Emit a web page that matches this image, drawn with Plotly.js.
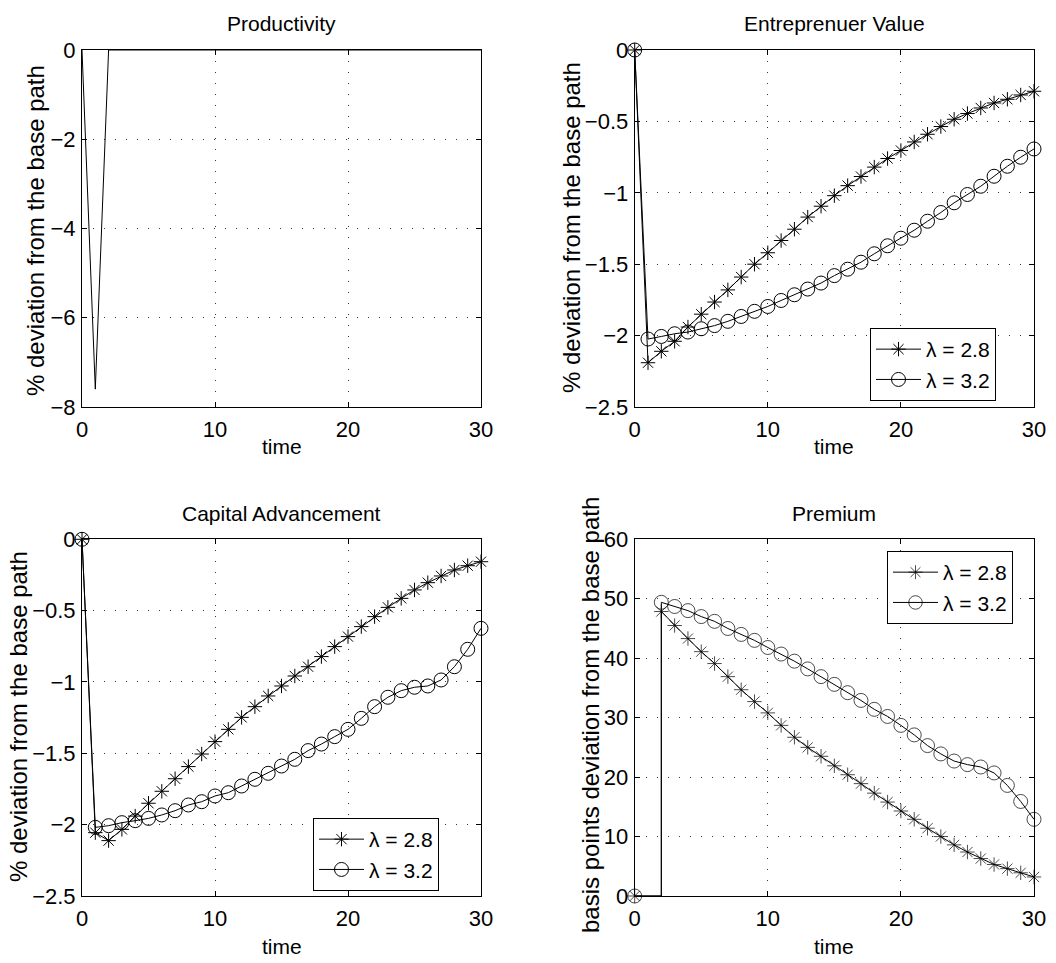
<!DOCTYPE html>
<html>
<head>
<meta charset="utf-8">
<script src="https://cdn.plot.ly/plotly-3.0.1.min.js"></script>
<style>html,body{margin:0;padding:0;background:#fff;}#chart{width:1056px;height:963px;}</style>
</head>
<body>
<div id="chart"></div>
<script>
// ---- data ----
const time = [0,1,2,3,4,5,6,7,8,9,10,11,12,13,14,15,16,17,18,19,20,21,22,23,24,25,26,27,28,29,30];
const productivity = [0,-7.6,0,0,0,0,0,0,0,0,0,0,0,0,0,0,0,0,0,0,0,0,0,0,0,0,0,0,0,0,0];
const entValue28 = [0,-2.19,-2.11,-2.04,-1.94,-1.85,-1.765,-1.68,-1.59,-1.50,-1.42,-1.334,-1.255,-1.17,-1.094,-1.02,-0.95,-0.886,-0.82,-0.76,-0.704,-0.644,-0.59,-0.536,-0.485,-0.445,-0.406,-0.371,-0.345,-0.315,-0.289];
const entValue32 = [0,-2.024,-2.006,-1.987,-1.975,-1.952,-1.93,-1.90,-1.866,-1.83,-1.796,-1.754,-1.714,-1.674,-1.632,-1.58,-1.535,-1.486,-1.427,-1.371,-1.318,-1.262,-1.199,-1.138,-1.07,-1.012,-0.954,-0.884,-0.814,-0.751,-0.693];
const capAdv28 = [0,-2.056,-2.112,-2.033,-1.94,-1.85,-1.766,-1.678,-1.593,-1.505,-1.418,-1.332,-1.248,-1.173,-1.098,-1.028,-0.958,-0.893,-0.822,-0.752,-0.682,-0.612,-0.542,-0.477,-0.414,-0.355,-0.304,-0.257,-0.215,-0.185,-0.157];
const capAdv32 = [0,-2.019,-2.007,-1.986,-1.972,-1.956,-1.932,-1.902,-1.862,-1.839,-1.799,-1.776,-1.729,-1.682,-1.64,-1.589,-1.542,-1.481,-1.435,-1.383,-1.332,-1.255,-1.173,-1.107,-1.061,-1.037,-1.028,-0.986,-0.893,-0.771,-0.624];
const premTime = [0,2,2,3,4,5,6,7,8,9,10,11,12,13,14,15,16,17,18,19,20,21,22,23,24,25,26,27,28,29,30];
const premium28 = [0,0,47.85,45.5,43.3,41.1,39.1,36.9,34.7,32.7,30.8,28.7,26.7,25.0,23.5,21.9,20.4,18.9,17.3,15.8,14.3,12.9,11.4,10.0,8.6,7.4,6.3,5.3,4.6,3.9,3.2];
const premium32 = [0,0,49.4,48.7,48.0,47.0,46.2,45.0,44.0,43.0,41.8,40.7,39.5,38.2,36.9,35.6,34.2,32.9,31.4,30.2,28.7,27.1,25.3,23.9,22.7,22.1,21.7,20.7,18.6,15.9,12.9];
const seriesNames = ['λ = 2.8', 'λ = 3.2'];
const panelTitles = ['Productivity', 'Entreprenuer Value', 'Capital Advancement', 'Premium'];
const yTitles = ['% deviation from the base path', '% deviation from the base path', '% deviation from the base path', 'basis points deviation from the base path'];
const xTitle = 'time';
const xTicks = [0, 10, 20, 30];

// ---- styles ----
const FONT = 'Liberation Sans, Arial, Helvetica, sans-serif';
const W = 1056, H = 963;
const px = v => v / W;
const py = v => 1 - v / H;
const colL = [px(82), px(481)], colR = [px(634.7), px(1034)];
const rowT = [py(407), py(50)], rowB = [py(896), py(539.3)];
const TICKFONT = {family: FONT, size: 22, color: '#000'};
const GRID = {showgrid: true, gridcolor: '#333', griddash: '1px,10px', gridwidth: 1};

function xa(domain, anchor) {
  return Object.assign({domain, anchor, range: [0, 30], tickvals: xTicks, showline: true, linecolor: '#000', linewidth: 1,
    mirror: 'ticks', ticks: 'inside', ticklen: 5, tickcolor: '#000', zeroline: false, ticklabelstandoff: 3,
    tickfont: TICKFONT, fixedrange: true}, GRID);
}
function ya(domain, anchor, range, dtick) {
  return Object.assign({domain, anchor, range, dtick, tick0: 0, showline: true, linecolor: '#000', linewidth: 1,
    mirror: 'ticks', ticks: 'inside', ticklen: 5, tickcolor: '#000', zeroline: false, ticklabelstandoff: 1,
    tickfont: TICKFONT, fixedrange: true}, GRID);
}
const lineStyle = {color: '#000', width: 1};
function starMarker() { return {symbol: 'asterisk-open', size: 12, color: '#000', line: {color: '#000', width: 1}}; }
function circMarker() { return {symbol: 'circle-open', size: 14, color: '#000', line: {color: '#000', width: 1}}; }
const premStarSizes = premTime.map((t, i) => i === 1 ? 0 : 12);
const premCircSizes = premTime.map((t, i) => i === 1 ? 0 : 14);

const traces = [
  {x: time, y: productivity, xaxis: 'x', yaxis: 'y', mode: 'lines', line: lineStyle, showlegend: false, cliponaxis: false},
  {x: time, y: entValue28, xaxis: 'x2', yaxis: 'y2', mode: 'lines+markers', name: seriesNames[0], line: lineStyle, marker: starMarker(), legend: 'legend', legendgroup: 'a', cliponaxis: false},
  {x: time, y: entValue32, xaxis: 'x2', yaxis: 'y2', mode: 'lines+markers', name: seriesNames[1], line: lineStyle, marker: circMarker(), legend: 'legend', legendgroup: 'b', cliponaxis: false},
  {x: time, y: capAdv28, xaxis: 'x3', yaxis: 'y3', mode: 'lines+markers', name: seriesNames[0], line: lineStyle, marker: starMarker(), legend: 'legend2', legendgroup: 'c', cliponaxis: false},
  {x: time, y: capAdv32, xaxis: 'x3', yaxis: 'y3', mode: 'lines+markers', name: seriesNames[1], line: lineStyle, marker: circMarker(), legend: 'legend2', legendgroup: 'd', cliponaxis: false},
  {x: premTime, y: premium28, xaxis: 'x4', yaxis: 'y4', mode: 'lines+markers', name: seriesNames[0], line: lineStyle, marker: Object.assign(starMarker(), {size: premStarSizes}), legend: 'legend3', legendgroup: 'e', cliponaxis: false},
  {x: premTime, y: premium32, xaxis: 'x4', yaxis: 'y4', mode: 'lines+markers', name: seriesNames[1], line: lineStyle, marker: Object.assign(circMarker(), {size: premCircSizes}), legend: 'legend3', legendgroup: 'f', cliponaxis: false}
];

function legendBox(x, y) {
  return {x, y, xanchor: 'left', yanchor: 'top', bgcolor: '#fff', bordercolor: '#000', borderwidth: 1,
    font: {family: FONT, size: 21, color: '#000'}, traceorder: 'grouped', tracegroupgap: 0, itemwidth: 45,
    itemclick: false, itemdoubleclick: false};
}

const annotations = [];
const titleFont = {family: FONT, size: 21, color: '#000'};
const titlePos = [[px(281.5), py(23)], [px(834.3), py(23)], [px(281.5), py(513)], [px(834.3), py(513)]];
panelTitles.forEach((t, i) => annotations.push({text: t, xref: 'paper', yref: 'paper', x: titlePos[i][0], y: titlePos[i][1],
  xanchor: 'center', yanchor: 'middle', showarrow: false, font: titleFont}));
const xtPos = [[px(281.5), py(447)], [px(834.3), py(447)], [px(281.5), py(946)], [px(834.3), py(946)]];
xtPos.forEach(p => annotations.push({text: xTitle, xref: 'paper', yref: 'paper', x: p[0], y: p[1],
  xanchor: 'center', yanchor: 'middle', showarrow: false, font: titleFont}));
const ytPos = [[px(35), py(231)], [px(571), py(228)], [px(18), py(717)], [px(590), py(715)]];
yTitles.forEach((t, i) => annotations.push({text: t, xref: 'paper', yref: 'paper', x: ytPos[i][0], y: ytPos[i][1],
  xanchor: 'center', yanchor: 'middle', textangle: -90, showarrow: false, font: {family: FONT, size: 24, color: '#000'}}));

const layout = {
  width: W, height: H, margin: {l: 0, r: 0, t: 0, b: 0}, paper_bgcolor: '#fff', plot_bgcolor: '#fff',
  font: {family: FONT, color: '#000'}, hovermode: false,
  xaxis: xa(colL, 'y'), yaxis: ya(rowT, 'x', [-8, 0], 2),
  xaxis2: xa(colR, 'y2'), yaxis2: ya(rowT, 'x2', [-2.5, 0], 0.5),
  xaxis3: xa(colL, 'y3'), yaxis3: ya(rowB, 'x3', [-2.5, 0], 0.5),
  xaxis4: xa(colR, 'y4'), yaxis4: ya(rowB, 'x4', [0, 60], 10),
  legend: legendBox(px(870), py(328)),
  legend2: legendBox(px(313), py(818)),
  legend3: legendBox(px(887), py(551)),
  annotations
};

Plotly.newPlot('chart', traces, layout, {displayModeBar: false});
</script>
</body>
</html>
